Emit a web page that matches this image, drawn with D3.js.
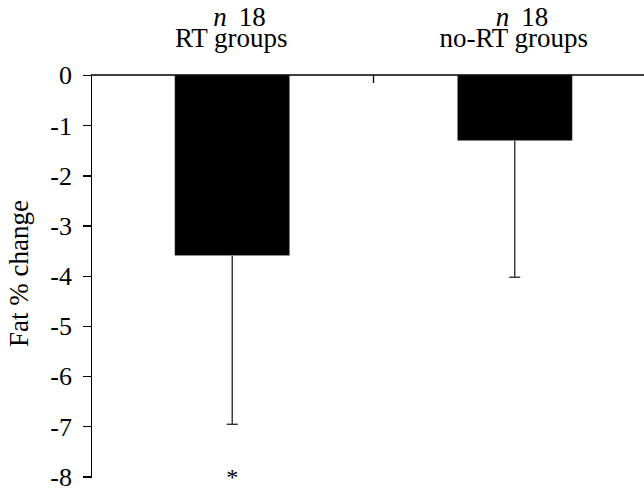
<!DOCTYPE html>
<html lang="en">
<head>
  <meta charset="utf-8">
  <title>Fat % change</title>
  <style>
    body { margin: 0; background: #fff; }
    text { font-family: "Liberation Serif", "Times New Roman", serif; fill: #000; }
    .axis path, .axis line { stroke: #000; stroke-width: 1.3px; shape-rendering: crispEdges; }
  </style>
</head>
<body>
  <div id="chart"></div>
  <script src="https://cdn.jsdelivr.net/npm/d3@7"></script>
  <script>
    var groups = ["RT groups", "no-RT groups"];
    var groupN = [18, 18];
    var meanChange = [-3.6, -1.31];
    var sdChange = [3.36, 2.72];
    var yTicks = [0, -1, -2, -3, -4, -5, -6, -7, -8];
    var starred = [true, false];

    var width = 644,
        height = 491;

    var svg = d3.select("#chart")
      .append("svg")
        .attr("width", width)
        .attr("height", height);

    var x = d3.scaleBand()
        .domain(groups)
        .range([91, 656])
        .paddingInner(0.593)
        .paddingOuter(0.2965);

    var y = d3.scaleLinear()
        .domain([0, -8])
        .range([75, 476.5]);

    // bars
    svg.selectAll(".bar")
        .data(groups)
      .enter().append("rect")
        .attr("class", "bar")
        .attr("x", function(d) { return x(d); })
        .attr("y", y(0))
        .attr("width", x.bandwidth())
        .attr("height", function(d, i) { return y(meanChange[i]) - y(0); })
        .attr("fill", "#000")
        .attr("stroke", "#bbb")
        .attr("stroke-width", 0.6);

    // error bars (down only)
    var err = svg.selectAll(".err")
        .data(groups)
      .enter().append("g")
        .attr("class", "err")
        .attr("stroke", "#333")
        .attr("stroke-width", 1.4);

    err.append("line")
        .attr("x1", function(d) { return x(d) + x.bandwidth() / 2; })
        .attr("x2", function(d) { return x(d) + x.bandwidth() / 2; })
        .attr("y1", function(d, i) { return y(meanChange[i]); })
        .attr("y2", function(d, i) { return y(meanChange[i] - sdChange[i]); });

    err.append("line")
        .attr("x1", function(d) { return x(d) + x.bandwidth() / 2 - 5.5; })
        .attr("x2", function(d) { return x(d) + x.bandwidth() / 2 + 5.5; })
        .attr("y1", function(d, i) { return y(meanChange[i] - sdChange[i]); })
        .attr("y2", function(d, i) { return y(meanChange[i] - sdChange[i]); });

    // y axis
    var yAxis = svg.append("g")
        .attr("class", "axis")
        .attr("transform", "translate(91,0)")
        .call(d3.axisLeft(y).tickValues(yTicks).tickSize(8).tickSizeOuter(8).tickPadding(11)
          .tickFormat(function(d) { return String(d); }));
    yAxis.selectAll("text")
        .style("font-size", "26px")
        .style("font-family", "Liberation Serif, serif")
        .attr("dy", "0.34em");

    // x axis along zero, ticks between categories pointing down
    svg.append("line")
        .attr("x1", 91).attr("x2", width)
        .attr("y1", y(0)).attr("y2", y(0))
        .attr("stroke", "#000").attr("stroke-width", 1.3);

    svg.append("line")
        .attr("x1", x.range()[0] + x.step()).attr("x2", x.range()[0] + x.step())
        .attr("y1", y(0)).attr("y2", y(0) + 8)
        .attr("stroke", "#000").attr("stroke-width", 1.3);

    // category labels on top
    svg.selectAll(".cat")
        .data(groups)
      .enter().append("text")
        .attr("class", "cat")
        .attr("x", function(d) { return x(d) + x.bandwidth() / 2 - 1; })
        .attr("y", 47)
        .attr("text-anchor", "middle")
        .style("font-size", "27px")
        .text(function(d) { return d; });

    var nLab = svg.selectAll(".nlab")
        .data(groups)
      .enter().append("text")
        .attr("class", "nlab")
        .attr("x", function(d) { return x(d) + x.bandwidth() / 2 - 19; })
        .attr("y", 26)
        .attr("text-anchor", "start")
        .style("font-size", "27px");
    nLab.append("tspan").style("font-style", "italic").text("n");
    nLab.append("tspan").attr("dx", 12).text(function(d, i) { return groupN[i]; });

    // significance marker
    svg.selectAll(".star")
        .data(groups.filter(function(d, i) { return starred[i]; }))
      .enter().append("text")
        .attr("class", "star")
        .attr("x", function(d) { return x(d) + x.bandwidth() / 2; })
        .attr("y", 485)
        .attr("text-anchor", "middle")
        .style("font-size", "24px")
        .text("*");

    // y title
    svg.append("text")
        .attr("transform", "translate(28," + 273.5 + ") rotate(-90)")
        .attr("text-anchor", "middle")
        .style("font-size", "27px")
        .text("Fat % change");
  </script>
</body>
</html>
